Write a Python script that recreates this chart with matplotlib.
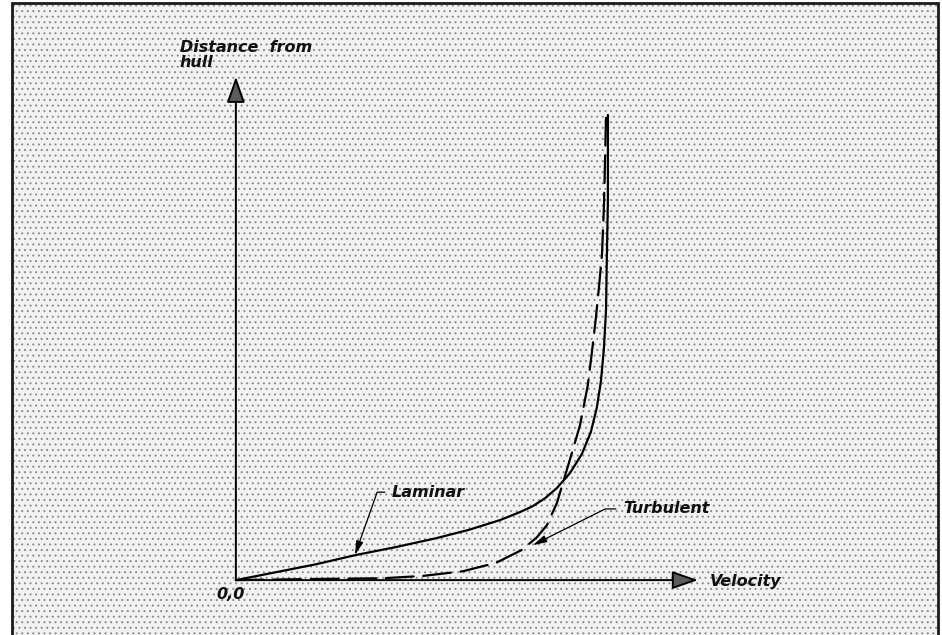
"""Velocity profile in the boundary layer next to a hull: laminar vs turbulent."""

import matplotlib

matplotlib.use("Agg")
import matplotlib.pyplot as plt
from matplotlib.patches import Rectangle

# velocity (fraction of free-stream) and distance from hull (fraction of layer height)
laminar_v = [0.000, 0.108, 0.215, 0.323, 0.430, 0.538, 0.626, 0.710, 0.763,
             0.798, 0.831, 0.863, 0.898, 0.930, 0.954, 0.970, 0.981, 0.989,
             0.995, 0.997, 1.000, 1.000]
laminar_d = [0.000, 0.017, 0.034, 0.054, 0.071, 0.090, 0.108, 0.129, 0.146,
             0.159, 0.176, 0.198, 0.230, 0.271, 0.318, 0.370, 0.426, 0.495,
             0.581, 0.688, 0.817, 1.000]

turbulent_v = [0.000, 0.172, 0.395, 0.503, 0.610, 0.699, 0.769, 0.809, 0.836,
               0.863, 0.884, 0.903, 0.925, 0.946, 0.957, 0.968, 0.976, 0.984,
               0.989, 0.992, 0.995]
turbulent_d = [0.000, 0.002, 0.004, 0.009, 0.019, 0.037, 0.065, 0.092, 0.118,
               0.166, 0.222, 0.273, 0.333, 0.419, 0.490, 0.566, 0.630, 0.699,
               0.796, 0.892, 1.000]

# where the callouts point and where their labels sit
laminar_tip = (0.320, 0.054)
laminar_label = (0.419, 0.189)
turbulent_tip = (0.798, 0.075)
turbulent_label = (1.040, 0.153)

x_axis_end = 1.242
y_axis_end = 1.082

plt.rcParams["lines.scale_dashes"] = False
plt.rcParams["hatch.linewidth"] = 0.7

fig = plt.figure(figsize=(9.42, 6.35), dpi=100)
fig.patch.set_facecolor("white")

# stippled panel with a dark frame, kept under the axes
panel = (0.0127, -0.02)
pw, ph = 0.983, 1.0153
fig.patches.append(Rectangle(panel, pw, ph, transform=fig.transFigure,
                             facecolor="#f2f2f2", edgecolor="none", zorder=-3))
fig.patches.append(Rectangle(panel, pw, ph, transform=fig.transFigure,
                             facecolor="none", edgecolor="#8a8a8a", linewidth=0,
                             hatch="...", zorder=-2))
fig.patches.append(Rectangle(panel, pw, ph, transform=fig.transFigure,
                             facecolor="none", edgecolor="#1a1a1a", linewidth=2.0,
                             zorder=-1))

ax = fig.add_axes([0, 0, 1, 1])
ax.set_zorder(2)
ax.set_facecolor("none")
ax.set_xlim(-0.634, 1.898)
ax.set_ylim(-0.118, 1.247)
ax.axis("off")

font = dict(family="DejaVu Sans", style="oblique", weight="bold", size=11.5,
            color="#111111")

# axes with filled arrowheads
axis_arrow = dict(arrowstyle="-|>,head_length=0.8,head_width=0.28", mutation_scale=20,
                  fc="#5a5a5a", ec="black", lw=1.4, shrinkA=0, shrinkB=0)
ax.annotate("", xy=(x_axis_end, 0), xytext=(0, 0), arrowprops=axis_arrow)
ax.annotate("", xy=(0, y_axis_end), xytext=(0, 0), arrowprops=axis_arrow)

ax.plot(laminar_v, laminar_d, color="black", lw=1.6, solid_capstyle="round",
        solid_joinstyle="round", zorder=3)
ax.plot(turbulent_v, turbulent_d, color="black", lw=1.6, linestyle=(0, (20, 7)),
        dash_capstyle="round", zorder=3)

ax.text(-0.151, 1.162, "Distance  from\nhull", ha="left", va="top",
        linespacing=1.0, **font)
ax.text(1.274, -0.004, "Velocity", ha="left", va="center", **font)
ax.text(-0.013, -0.030, "0,0", ha="center", va="center", **font)

leader = dict(arrowstyle="-|>,head_length=0.7,head_width=0.18", mutation_scale=12,
              fc="black", ec="black", lw=0.9, shrinkA=3, shrinkB=0,
              relpos=(0, 0.5))
ax.annotate("Laminar", xy=laminar_tip, xytext=laminar_label, ha="left", va="center",
            arrowprops=dict(leader, connectionstyle="angle,angleA=0,angleB=70.5,rad=0"),
            **font)
ax.annotate("Turbulent", xy=turbulent_tip, xytext=turbulent_label, ha="left", va="center",
            arrowprops=dict(leader, connectionstyle="angle,angleA=0,angleB=26.6,rad=0"),
            **font)

fig.savefig("out.png", dpi=100)
